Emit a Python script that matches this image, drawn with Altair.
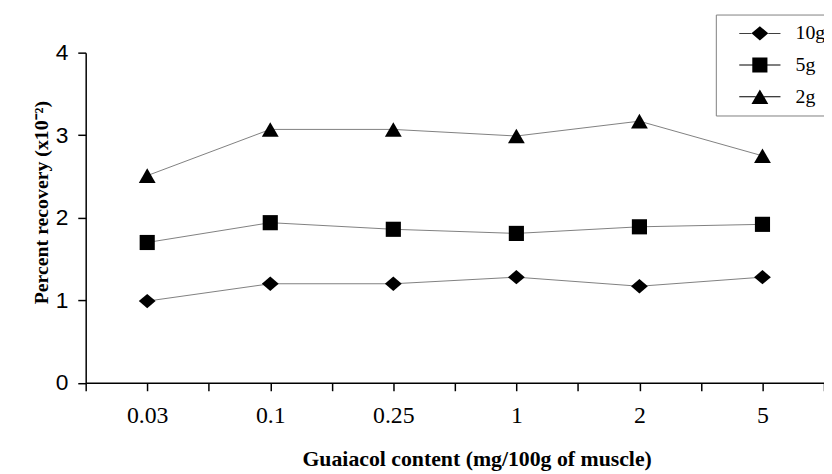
import altair as alt
import pandas as pd

# ---- data ----
concentrations = ["0.03", "0.1", "0.25", "1", "2", "5"]
series_names = ["10g", "5g", "2g"]
rec_10g = [0.99, 1.20, 1.20, 1.28, 1.17, 1.28]
rec_5g = [1.70, 1.94, 1.86, 1.81, 1.89, 1.92]
rec_2g = [2.51, 3.07, 3.07, 2.99, 3.17, 2.75]
y_ticks = [0, 1, 2, 3, 4]

rows = []
for name, vals in zip(series_names, [rec_10g, rec_5g, rec_2g]):
    for i, (c, v) in enumerate(zip(concentrations, vals)):
        rows.append({"idx": i, "conc": c, "series": name, "value": v})
df = pd.DataFrame(rows)

n = len(concentrations)
tick_vals = [k / 2 - 0.5 for k in range(2 * n + 1)]
label_arr = "[" + ",".join("'" + c + "'" for c in concentrations) + "]"
label_expr = f"datum.value % 1 === 0 ? {label_arr}[datum.value] : ''"

# marker shapes
diamond = "M-1,0L0,-0.85L1,0L0,0.85Z"
square = "M-0.9,-0.9H0.9V0.9H-0.9Z"
triangle = "M0,-0.866L1,0.866L-1,0.866Z"
# legend symbols: marker with a short thin line on each side
def side_lines(inner):
    return (f"M-2.45,-0.055H-{inner}V0.055H-2.45Z"
            f"M{inner},-0.055H2.45V0.055H{inner}Z")
lg_diamond = side_lines(1) + diamond
lg_square = side_lines(0.9) + square
lg_triangle = side_lines(0.5) + triangle

x_enc = alt.X(
    "idx:Q",
    scale=alt.Scale(domain=[-0.5, n - 0.5], nice=False, zero=False),
    axis=alt.Axis(
        values=tick_vals,
        labelExpr=label_expr,
        title="Guaiacol content (mg/100g of muscle)",
        titleFont="Liberation Serif",
        titleFontWeight="bold",
        titleFontSize=22,
        titleColor="black",
        titleX=395,
        titleY=83.7,
        titleAlign="center",
        titleBaseline="alphabetic",
        labelFont="Liberation Serif",
        labelFontSize=24,
        labelColor="black",
        labelPadding=13,
        labelFlush=False,
        labelOverlap=False,
        tickSize=8,
        tickColor="black",
        tickWidth=1.5,
        domainColor="black",
        domainWidth=1.5,
        grid=False,
    ),
)
y_enc = alt.Y(
    "value:Q",
    scale=alt.Scale(domain=[0, 4], nice=False),
    axis=alt.Axis(
        values=y_ticks,
        title="Percent recovery (x10⁻²)",
        titleFont="Liberation Serif",
        titleFontWeight="bold",
        titleFontSize=20,
        titleColor="black",
        titleX=-44.5,
        titleY=151,
        titleAngle=270,
        titleAlign="center",
        titleBaseline="middle",
        labelFont="Liberation Sans",
        labelFontSize=23,
        labelColor="black",
        labelPadding=10,
        labelFlush=False,
        tickSize=8,
        tickColor="black",
        tickWidth=1.5,
        domainColor="black",
        domainWidth=1.5,
        grid=False,
    ),
)

base = alt.Chart(df)

lines = base.mark_line(color="#808080", strokeWidth=1).encode(
    x=x_enc, y=y_enc, detail="series:N"
)

points = base.mark_point(filled=True, color="black", opacity=1, size=289).encode(
    x=x_enc,
    y=y_enc,
    shape=alt.Shape(
        "series:N",
        scale=alt.Scale(domain=series_names, range=[diamond, square, triangle]),
        legend=None,
    ),
)

legend_layer = base.mark_point(
    filled=True, fill="black", stroke="#808080", strokeWidth=1, opacity=0, size=289
).encode(
    x=x_enc,
    y=y_enc,
    shape=alt.Shape(
        "series:N",
        scale=alt.Scale(domain=series_names, range=[lg_diamond, lg_square, lg_triangle]),
        legend=alt.Legend(
            title=None,
            orient="none",
            legendX=636.7,
            legendY=-38.5,
            padding=9,
            rowPadding=12,
            symbolSize=289,
            symbolOpacity=1,
            symbolFillColor="black",
            symbolStrokeColor="#808080",
            symbolStrokeWidth=0.5,
            symbolOffset=25.5,
            labelOffset=26,
            labelFont="Liberation Serif",
            labelFontSize=20,
            labelColor="black",
            labelLimit=200,
            fillColor="white",
            strokeColor="#808080",
        ),
    ),
)

chart = (
    alt.layer(lines, points, legend_layer)
    .resolve_scale(shape="independent")
    .properties(
        width=746,
        height=333.6,
        autosize=alt.AutoSizeParams(type="none"),
        padding={"left": 78.5, "top": 42.7, "right": 0, "bottom": 87.7},
        background="white",
    )
    .configure_view(stroke=None)
)

chart.save("out.html", embed_options={"renderer": "svg", "actions": False})
